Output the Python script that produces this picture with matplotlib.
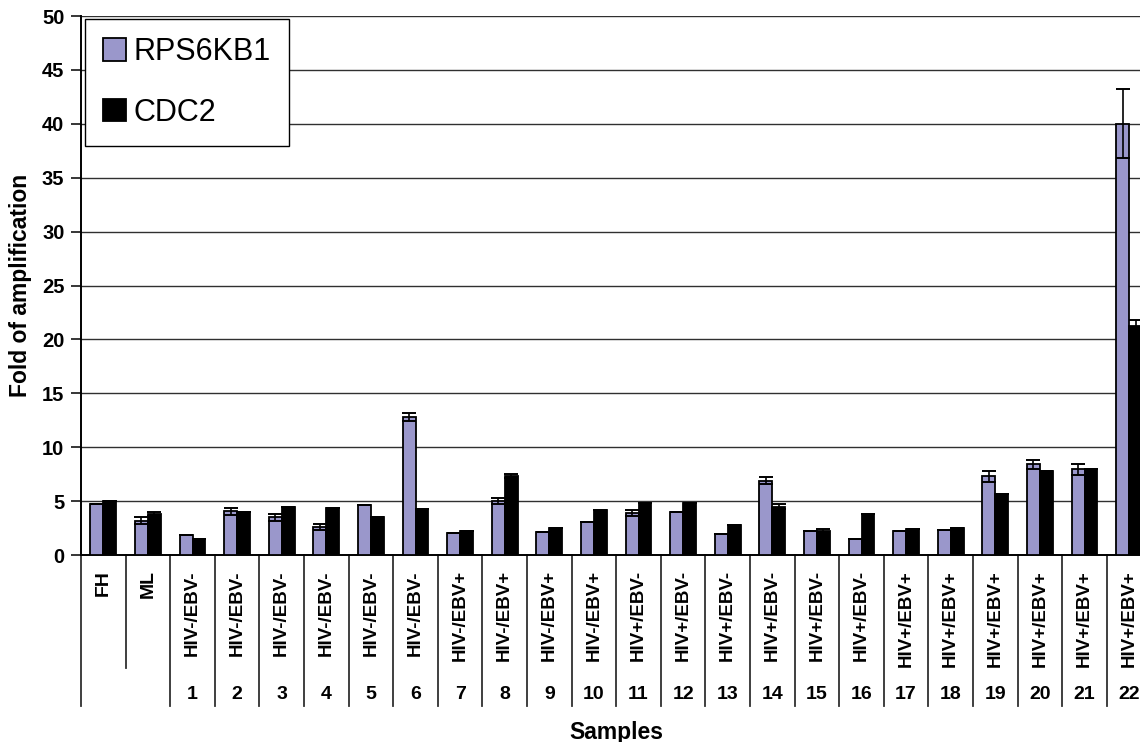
import numpy as np
import matplotlib as mpl
mpl.use('Agg')
import matplotlib.pyplot as plt
from matplotlib.patches import Patch

mpl.rcParams.update({'font.family': ['Liberation Sans', 'DejaVu Sans']})

# sample groups
samples = ['FH', 'ML'] + [str(i) for i in range(1, 23)]
status = ['', ''] + ['HIV-/EBV-'] * 6 + ['HIV-/EBV+'] * 4 + ['HIV+/EBV-'] * 6 + ['HIV+/EBV+'] * 6

# fold of amplification (mean) and error
rps6kb1 = [4.7, 3.2, 1.85, 4.05, 3.5, 2.6, 4.65, 12.8, 2.0, 5.0, 2.1, 3.1, 3.9, 4.0, 1.95,
           6.9, 2.2, 1.5, 2.2, 2.3, 7.3, 8.4, 7.95, 40.0]
rps6kb1_err = [0.0, 0.3, 0.0, 0.3, 0.3, 0.3, 0.0, 0.4, 0.0, 0.3, 0.0, 0.0, 0.3, 0.0, 0.0,
               0.3, 0.0, 0.0, 0.0, 0.0, 0.5, 0.4, 0.5, 3.2]
cdc2 = [5.05, 3.8, 1.45, 3.95, 4.5, 4.35, 3.5, 4.3, 2.25, 7.3, 2.55, 4.2, 4.8, 4.8, 2.75,
        4.5, 2.25, 3.85, 2.4, 2.5, 5.7, 7.8, 7.95, 21.2]
cdc2_err = [0.0, 0.2, 0.0, 0.0, 0.0, 0.0, 0.0, 0.0, 0.0, 0.2, 0.0, 0.0, 0.0, 0.0, 0.0,
            0.2, 0.2, 0.0, 0.0, 0.0, 0.0, 0.0, 0.0, 0.6]

purple = '#9a97cb'
x = np.arange(len(samples))
w = 0.29

fig = plt.figure(figsize=(11.4, 7.42), dpi=100)
ax = fig.add_axes([0.0711, 0.252, 0.9389, 0.7264])

ax.bar(x - w / 2, rps6kb1, w, color=purple, edgecolor='black', linewidth=1.3, zorder=3)
ax.bar(x + w / 2, cdc2, w, color='black', edgecolor='black', linewidth=1.3, zorder=3)
ax.errorbar(x - w / 2, rps6kb1, yerr=rps6kb1_err, fmt='none', ecolor='black',
            elinewidth=1.2, capsize=5, capthick=1.4, zorder=4)
ax.errorbar(x + w / 2, cdc2, yerr=cdc2_err, fmt='none', ecolor='black',
            elinewidth=1.2, capsize=5, capthick=1.4, zorder=4)

ax.set_xlim(-0.5, len(samples) - 0.5)
ax.set_ylim(0, 50)
ax.set_yticks(np.arange(0, 51, 5))
ax.yaxis.grid(True, color='#303030', linewidth=1.0, zorder=0)
ax.set_axisbelow(True)
ax.set_xticks([])
ax.tick_params(axis='y', direction='out', length=7, width=1.1, pad=5, labelsize=14.5)
for lab in ax.get_yticklabels():
    lab.set_fontweight('bold')
ax.spines['top'].set_visible(False)
ax.spines['right'].set_visible(False)
ax.spines['left'].set_linewidth(1.4)
ax.spines['bottom'].set_linewidth(1.4)

ax.set_ylabel('Fold of amplification', fontsize=16.5, fontweight='bold')
ax.yaxis.set_label_coords(-0.046, 0.5)

# category table under the axis
tr = ax.get_xaxis_transform()
for b in np.arange(-0.5, len(samples), 1.0):
    bottom = -0.21 if b == 0.5 else -0.28
    ax.plot([b, b], [0, bottom], color='#303030', lw=1.3, transform=tr, clip_on=False)
for i, s in enumerate(samples):
    if s in ('FH', 'ML'):
        ax.text(i, -0.028, s, rotation=90, ha='center', va='top', transform=tr,
                fontsize=14, fontweight='bold')
    else:
        ax.text(i, -0.028, status[i], rotation=90, ha='center', va='top', transform=tr,
                fontsize=13.5, fontweight='bold')
        ax.text(i, -0.258, s, ha='center', va='center', transform=tr,
                fontsize=14, fontweight='bold')

fig.text(616 / 1140, 1 - 732 / 742, 'Samples', ha='center', va='center',
         fontsize=16.5, fontweight='bold')

handles = [Patch(facecolor=purple, edgecolor='black', linewidth=1.3),
           Patch(facecolor='black', edgecolor='black', linewidth=1.3)]
leg = ax.legend(handles, ['RPS6KB1', 'CDC2'], loc='upper left',
                bbox_to_anchor=(85 / 1140, 1 - 19 / 742), bbox_transform=fig.transFigure,
                fontsize=22, handlelength=0.75, handleheight=0.75, handletextpad=0.25,
                labelspacing=1.0, borderpad=0.6, borderaxespad=0, fancybox=False,
                framealpha=1, edgecolor='black')
leg.get_frame().set_linewidth(1.0)

fig.savefig('out.png', dpi=100)
